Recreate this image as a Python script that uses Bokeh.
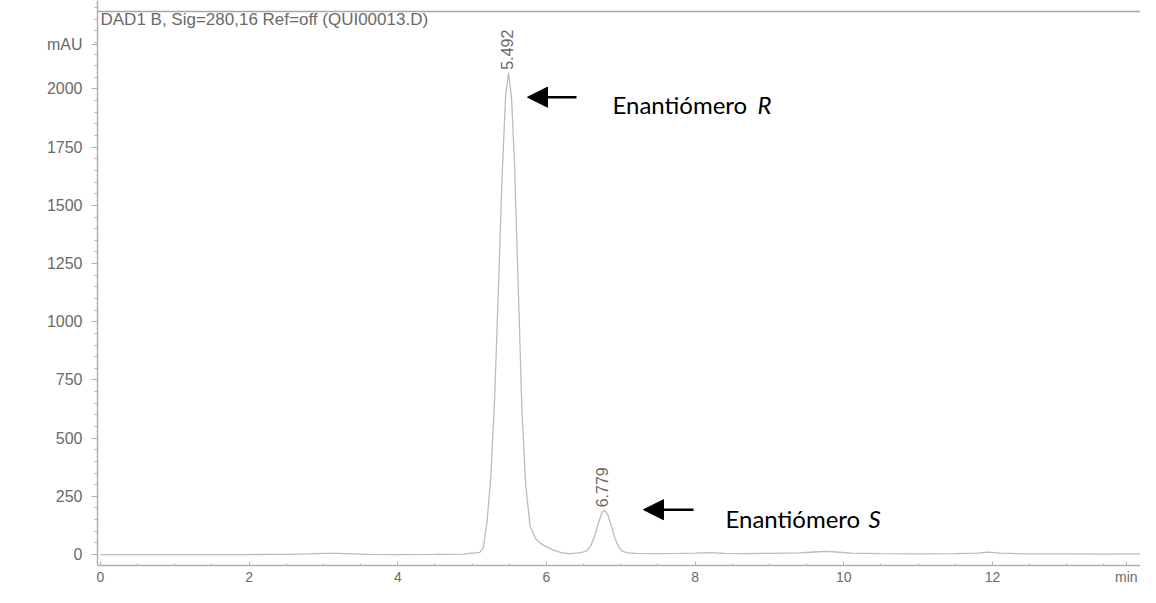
import math
from bokeh.plotting import figure
from bokeh.models import (Range1d, FixedTicker, Label, Arrow, NormalHead, Span,
                          ColumnDataSource)
from bokeh.core.properties import value
from bokeh.embed import file_html
from bokeh.resources import INLINE

# ---- data ----
time_min = [0.0, 0.5, 1.0, 1.5, 2.0, 2.5, 2.8, 3.0, 3.2, 3.4,
            3.6, 4.0, 4.5, 4.9, 5.0, 5.1, 5.15, 5.2, 5.25, 5.3,
            5.35, 5.4, 5.45, 5.49, 5.53, 5.57, 5.62, 5.67, 5.72, 5.78,
            5.85, 5.92, 6.0, 6.1, 6.2, 6.3, 6.4, 6.45, 6.5, 6.55,
            6.6, 6.65, 6.7, 6.75, 6.78, 6.82, 6.87, 6.92, 6.97, 7.02,
            7.1, 7.2, 7.5, 7.8, 8.0, 8.2, 8.4, 8.7, 9.0, 9.4,
            9.6, 9.75, 9.9, 10.1, 10.5, 11.0, 11.5, 11.8, 11.95, 12.1,
            12.4, 13.0, 13.5, 14.1]
signal_mau = [0, 0, 0, 0, 0, 1, 3, 5, 5, 3,
              1, 0, 1, 2, 6, 8, 30, 140, 330, 650,
              1105, 1600, 1970, 2070, 1960, 1680, 1150, 620, 300, 120,
              70, 48, 33, 18, 8, 4, 6, 8, 11, 18,
              40, 82, 138, 182, 190, 175, 127, 71, 33, 14,
              7, 5, 4, 5, 6, 8, 5, 4, 5, 7,
              11, 14, 11, 6, 4, 3, 4, 6, 10, 6,
              3, 3, 2, 3]

peak_times = [5.492, 6.779]
peak_heights = [2070, 190]
peak_names = ["Enantiómero ", "Enantiómero "]
peak_letters = ["R", "S"]

x_ticks = [0, 2, 4, 6, 8, 10, 12]
y_ticks = [0, 250, 500, 750, 1000, 1250, 1500, 1750, 2000]
x_unit, y_unit = "min", "mAU"
x_unit_pos, y_unit_pos = 13.8, 2190

title_text = "DAD1 B, Sig=280,16 Ref=off (QUI00013.D)"

# ---- layout (figure pixels) ----
W, H = 1140, 587
PX0 = 100.0          # pixel of t = 0
PXM = 74.33          # px per minute
PY0 = 556.0          # pixel of 0 mAU
K = 58.4 / 250.0     # px per mAU
FRAME_L, FRAME_B = 97, 567

def xv(px):
    return (px - PX0) / PXM

def yv(py):
    return (PY0 - py) / K

p = figure(width=W, height=H, x_range=Range1d(xv(FRAME_L), xv(W)),
           y_range=Range1d(yv(FRAME_B), yv(0)),
           output_backend="svg", toolbar_location=None,
           min_border_left=FRAME_L, min_border_right=0, min_border_top=0,
           min_border_bottom=H - FRAME_B)
p.grid.visible = False
p.outline_line_color = None
p.background_fill_color = "white"
p.border_fill_color = "white"

axis_col = "#b0b0b0"
text_col = "#6a6a6a"
font = "Liberation Sans"

p.xaxis.ticker = FixedTicker(ticks=x_ticks + [x_unit_pos],
                             minor_ticks=[i * 0.5 for i in range(0, 29)])
p.xaxis.major_label_overrides = {x_unit_pos: x_unit}
p.yaxis.ticker = FixedTicker(ticks=y_ticks + [y_unit_pos],
                             minor_ticks=list(range(-50, 2400, 50)))
p.yaxis.major_label_overrides = {y_unit_pos: y_unit}
for ax in (p.xaxis[0], p.yaxis[0]):
    ax.axis_line_color = axis_col
    ax.axis_line_width = 1.5
    ax.major_tick_line_color = axis_col
    ax.minor_tick_line_color = axis_col
    ax.major_label_text_color = text_col
    ax.major_label_text_font = font

p.xaxis.major_tick_in = 4
p.xaxis.major_tick_out = 0
p.xaxis.minor_tick_in = 2
p.xaxis.minor_tick_out = 0
p.xaxis.major_label_standoff = 3
p.xaxis.major_label_text_font_size = "14px"

p.yaxis.major_tick_in = 0
p.yaxis.major_tick_out = 6
p.yaxis.minor_tick_in = 0
p.yaxis.minor_tick_out = 3
p.yaxis.major_label_standoff = 9
p.yaxis.major_label_text_font_size = "16px"

# top frame line
p.add_layout(Span(location=yv(11), dimension="width", line_color="#a8a8a8", line_width=1.5))

# trace
p.line(time_min, signal_mau, line_color="#bcbcbc", line_width=1.3)

# peak retention-time labels
src = ColumnDataSource(dict(x=peak_times, y=peak_heights, t=[f"{v:.3f}" for v in peak_times]))
p.text(x="x", y="y", text="t", source=src, angle=math.pi / 2, text_align="left",
       text_baseline="middle", x_offset=-2, y_offset=-3, text_color=text_col,
       text_font=value(font), text_font_size="16px")

# title
p.add_layout(Label(x=xv(100), y=yv(19), text=title_text, text_align="left",
                   text_baseline="middle", text_color=text_col, text_font=font,
                   text_font_size="17px"))

# annotations: arrows + names
ann = [
    dict(xs=576, xe=527, y=97, tx=612, lx=757, ty=104),
    dict(xs=693, xe=643, y=511, tx=725, lx=868, ty=520),
]
for a, name, letter in zip(ann, peak_names, peak_letters):
    p.add_layout(Arrow(end=NormalHead(size=20, fill_color="black", line_color="black"),
                       x_start=xv(a["xs"]), y_start=yv(a["y"]), x_end=xv(a["xe"]), y_end=yv(a["y"]),
                       line_color="black", line_width=2.5))
    p.add_layout(Label(x=xv(a["tx"]), y=yv(a["ty"]), text=name, text_align="left",
                       text_baseline="alphabetic", text_color="black", text_font="Lato",
                       text_font_size="24px"))
    p.add_layout(Label(x=xv(a["lx"]), y=yv(a["ty"]), text=letter, text_align="left",
                       text_baseline="alphabetic", text_color="black", text_font="Lato",
                       text_font_style="italic", text_font_size="24px"))

open("out.html", "w").write(file_html(p, INLINE))
